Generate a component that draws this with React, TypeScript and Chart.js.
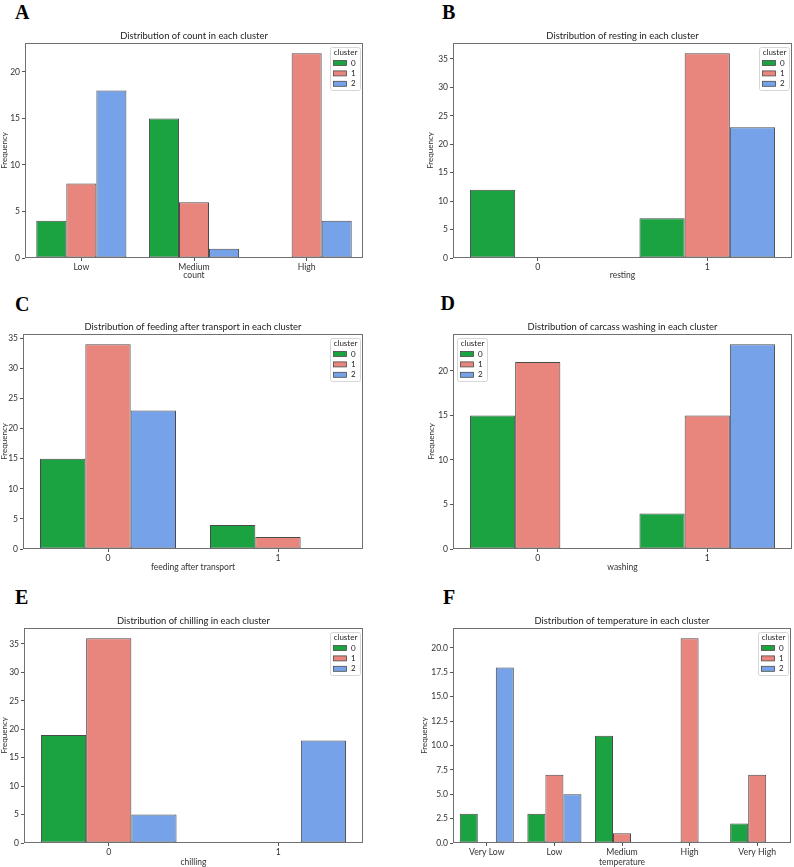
import React, { useEffect, useRef } from "react";
import { Chart, registerables } from "chart.js";

Chart.register(...registerables);

const FONT = "Lato, 'Open Sans', sans-serif";
const CLUSTERS = ["0", "1", "2"];
const COLORS = ["#1aa340", "#e8857d", "#75a2e8"];
const EDGE = "#4a4a4a";
const TEXT = "#333333";

// Panel A: count
const countCategories = ["Low", "Medium", "High"];
const countCluster0 = [4, 15, 0];
const countCluster1 = [8, 6, 22];
const countCluster2 = [18, 1, 4];
const countYTicks = [0, 5, 10, 15, 20];

// Panel B: resting
const restingCategories = ["0", "1"];
const restingCluster0 = [12, 7];
const restingCluster1 = [0, 36];
const restingCluster2 = [0, 23];
const restingYTicks = [0, 5, 10, 15, 20, 25, 30, 35];

// Panel C: feeding after transport
const feedingCategories = ["0", "1"];
const feedingCluster0 = [15, 4];
const feedingCluster1 = [34, 2];
const feedingCluster2 = [23, 0];
const feedingYTicks = [0, 5, 10, 15, 20, 25, 30, 35];

// Panel D: carcass washing
const washingCategories = ["0", "1"];
const washingCluster0 = [15, 4];
const washingCluster1 = [21, 15];
const washingCluster2 = [0, 23];
const washingYTicks = [0, 5, 10, 15, 20];

// Panel E: chilling
const chillingCategories = ["0", "1"];
const chillingCluster0 = [19, 0];
const chillingCluster1 = [36, 0];
const chillingCluster2 = [5, 18];
const chillingYTicks = [0, 5, 10, 15, 20, 25, 30, 35];

// Panel F: temperature
const temperatureCategories = ["Very Low", "Low", "Medium", "High", "Very High"];
const temperatureCluster0 = [3, 3, 11, 0, 2];
const temperatureCluster1 = [0, 7, 1, 21, 7];
const temperatureCluster2 = [18, 5, 0, 0, 0];
const temperatureYTicks = [0, 2.5, 5, 7.5, 10, 12.5, 15, 17.5, 20];

type Panel = {
  letter: string;
  title: string;
  xTitle: string;
  categories: string[];
  series: number[][];
  yTicks: number[];
  decimals: number;
  legendSide: "left" | "right";
  cx: number; cy: number; cw: number;
  ax: number; L: number; T: number; R: number; B: number; xh: number;
  lx: number; ly: number;
};

const panels: Panel[] = [
  { letter: "A", title: "Distribution of count in each cluster", xTitle: "count", categories: countCategories,
    series: [countCluster0, countCluster1, countCluster2], yTicks: countYTicks, decimals: 0, legendSide: "right",
    cx: 0, cy: 20, cw: 397, ax: 0, L: 25, T: 43, R: 363, B: 258, xh: 22, lx: 15, ly: 1.5 },
  { letter: "B", title: "Distribution of resting in each cluster", xTitle: "resting", categories: restingCategories,
    series: [restingCluster0, restingCluster1, restingCluster2], yTicks: restingYTicks, decimals: 0, legendSide: "right",
    cx: 397, cy: 20, cw: 397, ax: 426, L: 453, T: 43, R: 792, B: 258, xh: 22, lx: 442, ly: 1.5 },
  { letter: "C", title: "Distribution of feeding after transport in each cluster", xTitle: "feeding after transport", categories: feedingCategories,
    series: [feedingCluster0, feedingCluster1, feedingCluster2], yTicks: feedingYTicks, decimals: 0, legendSide: "right",
    cx: 0, cy: 312, cw: 397, ax: 0, L: 23, T: 334, R: 363, B: 549, xh: 23, lx: 15, ly: 293.5 },
  { letter: "D", title: "Distribution of carcass washing in each cluster", xTitle: "washing", categories: washingCategories,
    series: [washingCluster0, washingCluster1, washingCluster2], yTicks: washingYTicks, decimals: 0, legendSide: "left",
    cx: 397, cy: 312, cw: 397, ax: 427, L: 453, T: 334, R: 792, B: 549, xh: 23, lx: 440.5, ly: 293 },
  { letter: "E", title: "Distribution of chilling in each cluster", xTitle: "chilling", categories: chillingCategories,
    series: [chillingCluster0, chillingCluster1, chillingCluster2], yTicks: chillingYTicks, decimals: 0, legendSide: "right",
    cx: 0, cy: 606, cw: 397, ax: 0, L: 24, T: 628, R: 363, B: 843, xh: 24, lx: 15, ly: 586.5 },
  { letter: "F", title: "Distribution of temperature in each cluster", xTitle: "temperature", categories: temperatureCategories,
    series: [temperatureCluster0, temperatureCluster1, temperatureCluster2], yTicks: temperatureYTicks, decimals: 1, legendSide: "right",
    cx: 397, cy: 606, cw: 397, ax: 420, L: 453, T: 628, R: 791, B: 843, xh: 24, lx: 443, ly: 586.5 },
];

const titlePlugin = {
  id: "panelTitle",
  afterDraw(chart: any, _args: any, opts: any) {
    const { ctx, chartArea: ca } = chart;
    ctx.save();
    ctx.font = `9.4px ${FONT}`;
    ctx.fillStyle = "#222";
    ctx.textAlign = "center";
    ctx.textBaseline = "middle";
    ctx.fillText(opts.text, (ca.left + ca.right) / 2, ca.top - 7.5);
    ctx.restore();
  },
};

const spinePlugin = {
  id: "spines",
  afterDatasetsDraw(chart: any) {
    const { ctx, chartArea: ca } = chart;
    ctx.save();
    ctx.strokeStyle = "#707070";
    ctx.lineWidth = 1;
    ctx.strokeRect(Math.round(ca.left) + 0.5, Math.round(ca.top) + 0.5, Math.round(ca.right - ca.left) - 1, Math.round(ca.bottom - ca.top) - 1);
    ctx.restore();
  },
};

const legendPlugin = {
  id: "innerLegend",
  afterDraw(chart: any, _args: any, opts: any) {
    const { ctx, chartArea: ca } = chart;
    const w = 30, h = 43;
    const x = opts.side === "left" ? ca.left + 4 : ca.right - 3 - w;
    const y = ca.top + 4;
    ctx.save();
    ctx.beginPath();
    ctx.roundRect(x + 0.5, y + 0.5, w, h, 2);
    ctx.fillStyle = "rgba(255,255,255,0.85)";
    ctx.fill();
    ctx.strokeStyle = "#d6d6d6";
    ctx.lineWidth = 1;
    ctx.stroke();
    ctx.fillStyle = "#222";
    ctx.textBaseline = "middle";
    ctx.font = `8px ${FONT}`;
    ctx.textAlign = "center";
    ctx.fillText("cluster", x + w / 2 + 0.5, y + 5.5);
    ctx.textAlign = "left";
    chart.data.datasets.forEach((ds: any, i: number) => {
      const yy = y + 16 + i * 10.4;
      ctx.fillStyle = ds.backgroundColor;
      ctx.fillRect(x + 3.5, yy - 2.5, 13, 5);
      ctx.strokeStyle = EDGE;
      ctx.lineWidth = 0.8;
      ctx.strokeRect(x + 3.5, yy - 2.5, 13, 5);
      ctx.fillStyle = "#222";
      ctx.fillText(ds.label, x + 21, yy);
    });
    ctx.restore();
  },
};

function PanelChart({ p }: { p: Panel }) {
  const ref = useRef<HTMLCanvasElement>(null);
  const ch = p.B - p.cy + p.xh;
  useEffect(() => {
    if (!ref.current) return;
    const maxVal = Math.max(...p.series.flat());
    const chart = new Chart(ref.current, {
      type: "bar",
      data: {
        labels: p.categories,
        datasets: CLUSTERS.map((c, i) => ({
          label: c,
          data: p.series[i],
          backgroundColor: COLORS[i],
          borderColor: EDGE,
          borderWidth: 1,
          borderSkipped: false,
          categoryPercentage: 0.8,
          barPercentage: 1,
        })),
      },
      options: {
        responsive: false,
        animation: false,
        devicePixelRatio: 1,
        layout: { padding: { left: p.ax - p.cx, top: p.T - p.cy, right: p.cx + p.cw - p.R, bottom: 0 } },
        plugins: {
          legend: { display: false },
          tooltip: { enabled: false },
          title: { display: false },
          panelTitle: { text: p.title },
          innerLegend: { side: p.legendSide },
        } as any,
        scales: {
          x: {
            offset: true,
            grid: { display: true, drawOnChartArea: false, drawTicks: true, tickLength: 3, color: "#555", offset: false },
            border: { display: false },
            ticks: { font: { family: FONT, size: 8.7 }, color: TEXT, padding: 1, maxRotation: 0, autoSkip: false },
            title: { display: true, text: p.xTitle, font: { family: FONT, size: 8.5 }, color: TEXT, padding: 0 },
            afterFit: (s: any) => { s.height = p.xh; },
          },
          y: {
            min: 0,
            max: maxVal * 1.05,
            afterBuildTicks: (s: any) => { s.ticks = p.yTicks.map((v) => ({ value: v })); },
            grid: { display: true, drawOnChartArea: false, drawTicks: true, tickLength: 3, color: "#555" },
            border: { display: false },
            ticks: {
              font: { family: FONT, size: 8.5 },
              color: TEXT,
              padding: 2,
              callback: (v: any) => Number(v).toFixed(p.decimals),
            },
            title: { display: true, text: "Frequency", font: { family: FONT, size: 8 }, color: TEXT, padding: 0 },
            afterFit: (s: any) => { s.width = p.L - p.ax; },
          },
        } as any,
      },
      plugins: [titlePlugin, spinePlugin, legendPlugin],
    });
    return () => chart.destroy();
  }, []);
  return (
    <>
      <div
        style={{
          position: "absolute",
          left: p.lx,
          top: p.ly,
          fontFamily: "'Liberation Serif', 'Times New Roman', serif",
          fontWeight: "bold",
          fontSize: 20,
          lineHeight: "20px",
          color: "#000",
        }}
      >
        {p.letter}
      </div>
      <canvas
        ref={ref}
        width={p.cw}
        height={ch}
        style={{ position: "absolute", left: p.cx, top: p.cy, width: p.cw, height: ch }}
      />
    </>
  );
}

export default function App() {
  return (
    <div style={{ position: "absolute", left: 0, top: 0, width: 794, height: 867, background: "#fff", overflow: "hidden" }}>
      {panels.map((p) => (
        <PanelChart key={p.letter} p={p} />
      ))}
    </div>
  );
}
